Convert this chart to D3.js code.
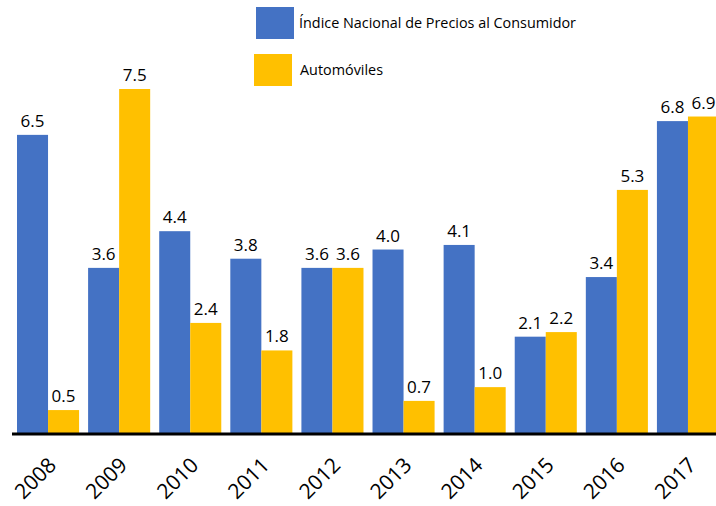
<!DOCTYPE html>
<html>
<head>
<meta charset="utf-8">
<script src="https://cdnjs.cloudflare.com/ajax/libs/d3/7.8.5/d3.min.js"></script>
<style>
  body { margin: 0; background: #fff; }
  svg { display: block; font-family: "Open Sans", sans-serif; }
</style>
</head>
<body>
<div id="chart"></div>
<script>
const years = ["2008", "2009", "2010", "2011", "2012", "2013", "2014", "2015", "2016", "2017"]
const inpc = [6.5, 3.6, 4.4, 3.8, 3.6, 4.0, 4.1, 2.1, 3.4, 6.8]
const autos = [0.5, 7.5, 2.4, 1.8, 3.6, 0.7, 1.0, 2.2, 5.3, 6.9]
const seriesNames = ["Índice Nacional de Precios al Consumidor", "Automóviles"]
const colors = ["#4472C4", "#FFC000"]

const w = 716, h = 506
const baseY = 433

const svg = d3.select("#chart").append("svg")
  .attr("width", w).attr("height", h)

const x = d3.scaleBand().domain(years).range([17, 719]).paddingInner(0.127).paddingOuter(0)
const xs = d3.scaleBand().domain([0, 1]).range([0, x.bandwidth()])
const y = d3.scaleLinear().domain([0, 7.5]).range([baseY, 89])

const rows = years.map((yr, i) => ({ year: yr, vals: [inpc[i], autos[i]] }))

const group = svg.append("g").selectAll("g").data(rows).join("g")
  .attr("transform", d => `translate(${x(d.year)},0)`)

group.selectAll("rect").data(d => d.vals.map((v, k) => ({ v, k }))).join("rect")
  .attr("x", d => xs(d.k)).attr("width", xs.bandwidth())
  .attr("y", d => y(d.v)).attr("height", d => baseY - y(d.v))
  .attr("fill", d => colors[d.k])

group.selectAll("text.val").data(d => d.vals.map((v, k) => ({ v, k }))).join("text")
  .attr("class", "val")
  .attr("x", d => xs(d.k) + xs.bandwidth() / 2)
  .attr("y", d => y(d.v) - 8)
  .attr("text-anchor", "middle")
  .attr("font-size", "17px").attr("fill", "#000")
  .text(d => d3.format(".1f")(d.v))

// axis line
svg.append("line")
  .attr("x1", 12).attr("x2", w).attr("y1", baseY + 1).attr("y2", baseY + 1)
  .attr("stroke", "#000").attr("stroke-width", 3)

// year labels
svg.append("g").selectAll("text").data(years).join("text")
  .attr("transform", d => `translate(${x(d) + x.bandwidth() / 2 - 1},${baseY + 23}) rotate(-45)`)
  .attr("text-anchor", "end")
  .attr("dy", "0.7em")
  .attr("font-size", "21px").attr("fill", "#000")
  .text(d => d)

// legend
const legend = svg.append("g")
const legY = [7, 54]
const legX = [256, 254]
const legTextW = [277, 83]
seriesNames.forEach((name, i) => {
  legend.append("rect")
    .attr("x", legX[i]).attr("y", legY[i]).attr("width", 38).attr("height", 32)
    .attr("fill", colors[i])
  legend.append("text")
    .attr("x", legX[i] + 43 + i * 3).attr("y", legY[i] + 16)
    .attr("dy", "0.35em")
    .attr("font-size", "15px").attr("fill", "#000")
    .attr("textLength", legTextW[i]).attr("lengthAdjust", "spacingAndGlyphs")
    .text(name)
})
</script>
</body>
</html>
